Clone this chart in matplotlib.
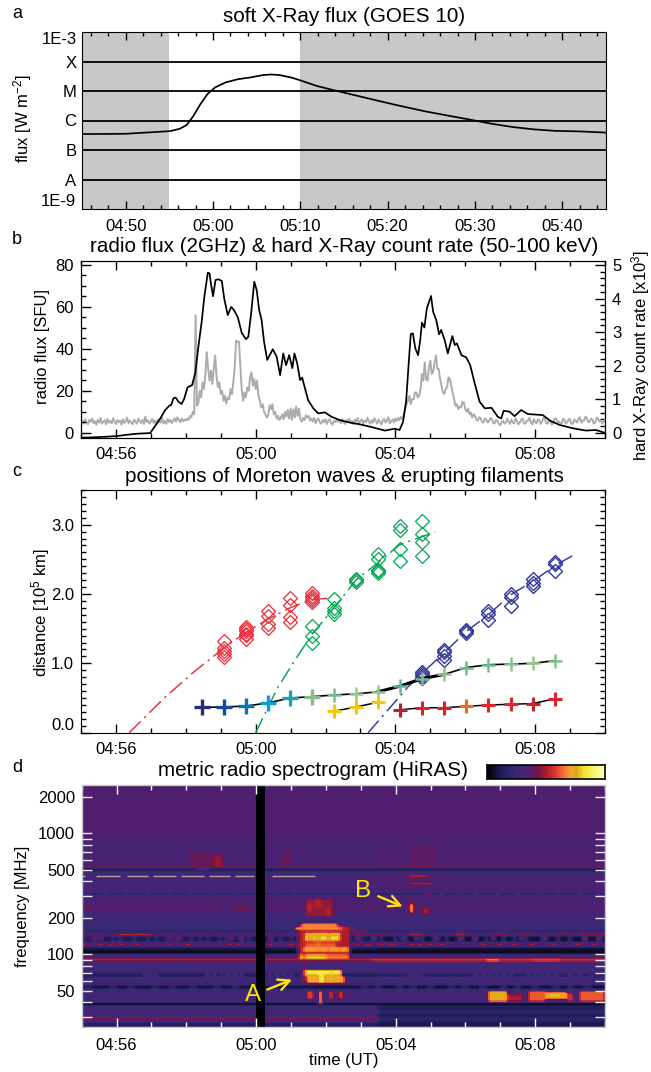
import numpy as np
import matplotlib
matplotlib.use('Agg')
import matplotlib.pyplot as plt
from matplotlib.colors import LinearSegmentedColormap
from matplotlib.ticker import FixedLocator, NullFormatter, MultipleLocator

W, H = 651, 1072
plt.rcParams['font.family'] = ['Liberation Sans', 'DejaVu Sans']
plt.rcParams['mathtext.default'] = 'regular'

# ---------- panel a (minutes after 05:00, log10 flux)
goes_t = [-15,-10,-7.15,-4.9,-3.8,-3,-2.3,-1.43,-.62,.24,1.43,2.86,4.29,5.72,6.68,7.63,9.06,10,11.9,13.8,16.2,18.6,21.5,24.3,27.2,29.6,31.9,34.3,36.7,39.1,42,45]
goes_log = [-6.46,-6.45,-6.40,-6.36,-6.28,-6.15,-5.87,-5.44,-5.10,-4.88,-4.71,-4.60,-4.54,-4.46,-4.44,-4.46,-4.55,-4.64,-4.83,-4.97,-5.14,-5.31,-5.51,-5.69,-5.85,-5.98,-6.11,-6.22,-6.30,-6.35,-6.37,-6.41]
goes_classes = [-4,-5,-6,-7,-8]
goes_ylabels = ['1E-3','X','M','C','B','A','1E-9']

# ---------- panel b
radio_t = [-4.99,-4.64,-4.26,-3.97,-3.69,-3.40,-3.16,-3.02,-2.88,-2.73,-2.59,-2.47,-2.42,-2.35,-2.29,-2.21,-2.12,-2.05,-1.95,-1.82,-1.73,-1.64,-1.54,-1.47,-1.37,-1.32,-1.28,-1.22,-1.15,-1.07,-.97,-.90,-.80,-.70,-.62,-.51,-.40,-.28,-.21,-.13,-.04,.03,.10,.17,.24,.33,.49,.60,.70,.79,.87,.96,1.05,1.11,1.19,1.27,1.33,1.50,1.65,1.79,1.98,2.17,2.41,2.70,2.98,3.36,3.70,3.98,4.12,4.22,4.31,4.38,4.44,4.50,4.57,4.65,4.71,4.76,4.83,4.90,5.02,5.08,5.17,5.25,5.31,5.41,5.50,5.63,5.70,5.76,5.89,6.03,6.14,6.27,6.41,6.56,6.75,6.93,7.03,7.10,7.27,7.41,7.60,7.79,8.22,8.43,8.70,9.08,9.46,9.74,9.98]
radio_v = [-2.4,-2.2,-1.9,-1.6,-1.0,-.5,-.3,-.2,3.2,6.8,10.8,12.9,13.2,16.5,16.7,14.8,13.7,16,21.6,22.7,28.3,41,53.7,64.8,76.3,76,71,65.1,72.8,73.2,72.4,64,56.1,60,58.5,55,47.7,44.6,45.8,56.9,72,68,58.5,53.7,43.4,34.7,39.8,36.3,27.5,37.8,32.2,37,30.8,37.8,33,25.1,26.3,15.6,11.6,9.2,9.7,7.6,6,4.8,4,2.5,1,1.9,1.3,5.2,15.6,33,47,47.4,40.2,37,44.2,52.5,50.2,59.3,65.2,57.7,53.7,46.9,49,44.2,37.8,46.1,41.8,42.6,37,35.9,32.3,23.5,14.8,11.6,11.9,7.6,6.8,10.5,10,7.9,10.8,8.9,8.4,5.7,3.7,2.1,1,1.3,0]
hxr_before = [.30,.36,.27,.40,.31,.25,.38,.33,.42,.28,.34,.24,.39,.30,.44,.27,.33,.37,.25,.41,.30,.35,.28,.43,.33,.26,.38,.31,.36,.24,.40,.29,.34,.45,.28,.36,.31,.25,.39,.33,.27,.42,.35,.29,.38,.26,.48,.32,.37,.27,.34,.41,.29,.36,.25,.39,.33,.30,.44,.28,.35,.26,.41,.32,.38,.29,.36,.43,.33,.46,.38,.31,.42,.34,.40,.36]
hxr_first = [.42,.38,.50,.46,.62,.55,3.5,.8,.9,1.25,1.05,1.5,1.3,1.75,2.4,1.9,1.55,1.85,1.45,1.9,2.3,1.7,1.35,1.5,1.15,1.25,.95,1.1,.87,1.05,1.0,1.3,1.15,1.5,1.95,2.75,2.7,2.72,2.0,1.3,.95,1.2,1.05,1.35,1.25,1.65,1.8,1.4,1.6,1.3,1.55,1.1,.95,.75,.85,.62,.55,.45,.52,.82,.7,.85,.55,.62,.42,.5,.38,.44,.55,.4,.62,.48,.68,.42,.72,.38,.7,.45,.78,.5,.72,.4,.33,.44,.38,.52,.45,.5,.36,.42,.33,.44,.28,.38,.42,.3,.27,.38,.31,.4,.26,.36,.4,.28,.24,.36,.31,.38]
hxr_between = [.33,.38,.28,.41,.30,.26,.37,.32,.42,.29,.35,.25,.39,.33,.44,.28,.35,.40,.27,.36,.31,.45,.33,.26,.38,.30,.43,.35,.27,.39,.32,.24,.37,.41,.30,.36,.46,.28,.34,.40,.31,.42,.35,.44,.38,.47,.40,.55]
hxr_second = [.7,.85,.95,1.1,.85,1.0,1.0,1.2,1.2,1.05,1.1,1.3,1.75,1.55,2.1,1.6,1.55,1.95,2.15,1.75,1.8,2.1,2.3,1.9,1.9,1.6,1.4,1.2,1.15,1.3,1.35,1.65,1.6,1.4,1.2,1.0,.8,.85,.7,.78,.75,.92,.9,.7,.62,.72,.55,.6,.45,.55,.5,.38,.36,.46,.43,.32,.3,.42,.4,.3,.35,.44,.42,.28,.28,.38,.35,.26,.22,.32]
hxr_after = [.36,.27,.30,.42,.33,.26,.39,.30,.28,.43,.34,.25,.30,.38,.42,.27,.27,.36,.36,.45,.31,.24,.40,.33,.28,.40,.37,.26,.33,.44,.41,.28,.27,.37,.35,.24,.30,.42,.42,.31,.34,.28,.28,.42,.38,.27,.32,.40,.40,.26,.27,.39,.35,.30,.41,.46,.30,.36,.36,.48,.44,.31,.33,.42,.39,.27,.30,.45,.42,.33,.36,.27,.32,.40]
hxr_step_min = 0.04

# ---------- panel c
red_t = [-.91]*5 + [-.27]*6 + [.36]*4 + [.98]*4 + [1.6]*5
red_d = [1.32,1.22,1.18,1.13,1.09, 1.53,1.50,1.47,1.43,1.41,1.35, 1.76,1.68,1.57,1.51, 1.94,1.84,1.67,1.59, 2.01,1.97,1.94,1.91,1.88]
red_fit_t = [-3.62,-2.62,-1.76,-.91,-.27,.36,.98,1.6,2.1]
red_fit_d = [0,.5,.88,1.22,1.45,1.64,1.80,1.92,1.94]
green_t = [1.6]*3 + [2.24]*4 + [2.87]*3 + [3.5]*5 + [4.12]*4 + [4.77]*4
green_d = [1.54,1.40,1.30, 1.93,1.80,1.76,1.71, 2.21,2.20,2.18, 2.57,2.50,2.35,2.33,2.31, 2.98,2.93,2.65,2.48, 3.05,2.87,2.75,2.55]
green_fit_t = [0,.62,1.08,1.6,2.24,2.87,3.5,4.12,4.77,5.15]
green_fit_d = [0,.64,1.01,1.41,1.8,2.2,2.45,2.71,2.83,2.89]
blue_t = [4.77]*4 + [5.39]*4 + [6.03]*3 + [6.66]*3 + [7.3]*3 + [7.93]*3 + [8.57]*3
blue_d = [.87,.84,.82,.79, 1.19,1.16,1.11,1.05, 1.48,1.46,1.44, 1.76,1.71,1.62, 2.0,1.96,1.83, 2.22,2.16,2.11, 2.46,2.43,2.33]
blue_fit_t = [3.22,3.6,4.36,4.77,5.39,6.03,6.66,7.3,7.93,8.57,9.06]
blue_fit_d = [0,.22,.66,.86,1.15,1.46,1.7,1.99,2.18,2.41,2.55]
fil1_t = [-1.54,-.9,-.27,.36,.98,1.62,2.24,2.87,3.5,4.12,4.77,5.39,6.03,6.66,7.3,7.93,8.57]
fil1_d = [.366,.371,.385,.43,.50,.52,.544,.56,.59,.67,.78,.84,.94,.98,.99,1.0,1.04]
fil1_colors = ['#2b2a7c','#144a9a','#0b74b8','#0a9ddc','#1f9fb5','#86bf8c','#7dbb96','#96c98e','#8cc594','#62b59a','#76bd92','#8cc683','#72bb8f','#6fbb97','#88c48e','#96c98e','#7ec48a']
fil2_t = [2.24,2.87,3.5,4.12,4.77,5.39,6.03,6.66,7.3,7.93,8.57]
fil2_d = [.31,.37,.44,.33,.36,.36,.38,.40,.41,.42,.49]
fil2_colors = ['#f6c510','#f6c510','#f6c510','#b81f2c','#d62230','#e0202c','#ea6c22','#e0262c','#dc2630','#c9242e','#e4202c']

# ---------- panel d : spectrogram, level 0..1 on the colour bar
band_top_mhz = [2500,881,837,729,532,506,484,451,429,406,393,325,307,246,231,199,159,151,141,126,114,110,100,93,87,71,65,56,51,39.5,37.6,34.2,32.1,30,28.8,28,27.4]
band_early =   [.36,.31,.33,.32,.43,.07,.26,.27,.34,.17,.30,.15,.33,.42,.27,.24,.16,.38,.11,.36,.12,.04,.29,.50,.27,.13,.28,.08,.28,.01,.24,.33,.22,.52,.22,.47,.14]
band_late =    [.36,.31,.33,.34,.43,.07,.28,.31,.34,.17,.33,.13,.33,.38,.29,.26,.16,.36,.07,.36,.08,.04,.30,.50,.27,.16,.28,.07,.28,.01,.14,.19,.11,.20,.12,.17,.10]
data_gap = (0.0, 0.27)
# (t start, t end, low MHz, high MHz, level)
faint_blobs = [(-1.9,-1,530,690,.41),(-1.2,-.95,520,640,.47),(-1.7,-1.35,500,530,.42),(.7,1.0,520,700,.40),(-.6,-.25,228,248,.44),(-4.85,-4.7,225,250,.44),
               (4.4,5.2,530,800,.38),(4.5,5.0,510,540,.44),(-1.4,-1.2,245,255,.38),(1.2,2.7,86,172,.50),(1.3,2.4,60,76,.46),(3,5,380,440,.35)]
dashed_line_t0 = [-5,-4.6,-3.7,-2.95,-2.15,-1.35,-.6,.45]
dashed_line_t1 = [-4.9,-3.9,-3.1,-2.3,-1.5,-.75,-.05,1.7]
dashed_mhz = 441
main_burst = [(1.41,2.22,205,285,.47),(1.7,1.85,240,290,.52),(2.0,2.15,210,240,.52),(1.45,1.6,230,260,.53),(1.31,2.36,170,180,.66),(1.12,2.5,158,168,.68),
              (1.41,2.41,127,133,.76),(1.41,2.41,133,139,.83),(1.41,2.41,139,145,.70),(1.41,2.41,145,152,.81),(1.41,2.31,115,125,.62),
              (1.36,2.65,104,113,.70),(1.27,1.98,94,100,.74),(1.27,1.98,86,94,.84),(1.98,2.65,86,100,.66),(1.41,2.46,69,73,.85),(1.41,2.46,66,69,.76),(1.46,2.57,57,66,.72),
              (1.79,1.93,57,73,.85),(2.1,2.2,57,70,.79),(1.46,1.65,42,50,.58),(1.79,1.91,39,50,.75),(2.12,2.22,42,50,.6),(2.36,2.5,42,50,.55),(2.58,2.67,43,50,.55),
              (1.55,1.6,127,152,.64),(1.75,1.8,104,152,.66),(2.05,2.1,104,152,.62),(2.4,2.8,160,166,.52),(2.6,3.2,155,160,.47),(1.36,1.41,57,100,.5)]
line_88mhz = [(1.0,3.3,.50),(3.3,6.6,.58),(6.6,6.95,.70),(6.95,7.9,.58),(7.9,8.7,.63),(8.7,10,.56)]
wave_b = [(4.36,4.93,430,455,.55),(4.4,5.03,375,390,.66),(4.85,5.0,305,320,.47),(4.74,4.93,215,240,.50),(4.41,4.5,220,260,.76),(5.7,6.5,240,243,.44),(4.4,4.5,260,300,.4)]
late_bursts = [(6.65,7.2,41,50,.74),(7.2,7.65,41,47,.50),(7.8,8.3,41,50,.62),(8.3,8.9,42,49,.74),(8.4,8.7,44,47,.80),(8.9,9.1,41,48,.55),(9.25,10,41,50,.62)]
strip_150mhz = [(-3.97,-3.0,143,148,.66),(2.8,3.1,143,148,.55),(3.4,3.7,143,148,.52),(4.4,4.75,143,150,.56),(5.7,6,143,150,.56),(6.8,7.2,143,150,.48),(7.6,7.9,143,150,.48),(8.6,9,143,150,.46),(9.3,10,143,150,.5)]
speck_mhz_a = 121
speck_t_a = [-4.93,-4.45,-4.16,-3.87,-3.4,-2.45,-1.97,-.73,-.49,.41,.98,2.9,3.2,3.6,3.9,4.45,4.7,5.0,5.3,6.5,7.0,7.4,7.9,8.5,9.2,9.7]
speck_mhz_b = 134
speck_t_b = [-4.64,-4.45,-2.45,-2.2,-.7,-.45,.4,2.9,3.4,4.2,4.6,5.2,5.9,6.3,6.8,7.6,8.3,9.4,9.85]
speck_mhz_c = 160
speck_t_c = [-4.3,-3.4,-2.9,-2.2,-1.3,-.7,.5,.9,3.0,3.7,4.2,4.9,5.8,6.4,7.2,8.1,8.9,9.6]
# places where the dark stripes break up
break_t_133 = [-4.9,-4.6,-4.1,-3.9,-3.5,-3.1,-2.85,-2.55,-2.3,-1.85,-1.6,-1.4,-1.05,-.85,-.4,-.2,.45,.7,1,3,3.35,3.6,4.0,4.3,4.75,5.1,5.45,5.8,6.25,6.6,7.1,7.4,7.75,8.2,8.65,9,9.45,9.8]
break_t_68 = [-3.2,-3.05,-2.9,-1.4,-1.2,-1,-.8,-.6,-.4,.4,.6,.8,1,4.4,4.55,4.7,6.3,6.5,6.7,6.9,7.1,7.3,7.8,8,8.2,8.4,8.6,9,9.3,9.6]
break_t_53 = [-4.8,-4.1,-3.6,-2.9,-2.4,-1.8,-1.1,-.6,.5,3.1,3.5,4.1,4.5,5,5.6,6,6.5,7.1,7.5,8,8.6,9,9.5]
break_t_315 = [-4.8,-4.3,-3.7,-3.1,-2.5,-1.9,-1.3,-.6,.6,1.1,3.4,3.9,5.3,5.8,6.3,6.9,7.5,8.1,8.7,9.3,9.8]

cmap_levels = [0,.12,.25,.36,.44,.50,.58,.67,.72,.76,.82,.90,1]
cmap_colors = ['#000005','#1e1e5a','#3c2878','#501e6e','#781446','#aa1e2d','#dc372d','#fa8232','#f5a52d','#d7aa14','#f0e132','#faf564','#ffffc8']
spec_cmap = LinearSegmentedColormap.from_list('hiras', list(zip(cmap_levels, cmap_colors)))

# ---------- layout
fig = plt.figure(figsize=(W/100, H/100), dpi=100)
PT = 0.72

def axes_px(l, t, r, b):
    return fig.add_axes([l/W, 1-b/H, (r-l)/W, (b-t)/H])

def text_px(x, y, s, **kw):
    kw.setdefault('ha', 'center')
    kw.setdefault('va', 'center')
    return fig.text(x/W, 1-y/H, s, **kw)

TS = 12
TITLE = 14.85

def time_axis(ax, color='black', labelpad=7):
    ax.set_xlim(-5, 10)
    ax.xaxis.set_major_locator(FixedLocator([-4, 0, 4, 8]))
    ax.xaxis.set_minor_locator(MultipleLocator(1))
    ax.set_xticklabels(['04:56', '05:00', '05:04', '05:08'])
    ax.tick_params(axis='x', which='major', direction='in', top=True, length=9*PT, width=1, color=color, labelsize=TS, pad=labelpad)
    ax.tick_params(axis='x', which='minor', direction='in', top=True, length=5*PT, width=1, color=color)

text_px(17, 14, 'a', fontsize=TS+1)
text_px(17, 240, 'b', fontsize=TS+1)
text_px(17, 472, 'c', fontsize=TS+1)
text_px(17, 767, 'd', fontsize=TS+1)

# --- a
a = axes_px(82, 32, 606, 209)
a.axvspan(-15, -5, color='#c6c8ca', lw=0, zorder=0)
a.axvspan(10, 45, color='#c6c8ca', lw=0, zorder=0)
for c_level in goes_classes:
    a.axhline(10.0**c_level, color='black', lw=1.3, zorder=2)
a.plot(goes_t, 10.0**np.array(goes_log), color='black', lw=1.25, zorder=3)
a.set_yscale('log')
a.set_ylim(1e-9, 1e-3)
a.set_xlim(-15, 45)
a.yaxis.set_major_locator(FixedLocator([1e-3,1e-4,1e-5,1e-6,1e-7,1e-8,1e-9]))
a.yaxis.set_minor_locator(FixedLocator([]))
a.set_yticklabels(goes_ylabels)
a.tick_params(axis='y', which='major', length=0, labelsize=TS, pad=4)
labs = a.get_yticklabels()
labs[0].set_va('top'); labs[-1].set_va('bottom')
a.xaxis.set_major_locator(FixedLocator([-10,0,10,20,30,40]))
a.xaxis.set_minor_locator(MultipleLocator(2))
a.set_xticklabels(['04:50','05:00','05:10','05:20','05:30','05:40'])
a.tick_params(axis='x', which='major', direction='in', top=True, length=8*PT, width=1, labelsize=TS, pad=7)
a.tick_params(axis='x', which='minor', direction='in', top=True, length=4*PT, width=1)
text_px(344, 16, 'soft X-Ray flux (GOES 10)', fontsize=TITLE)
text_px(23, 119, 'flux [W m$^{-2}$]', fontsize=TS, rotation=90)

# --- b
b = axes_px(81, 261, 605, 437.7)
b.plot(radio_t, radio_v, color='black', lw=1.25, zorder=3)
b.set_ylim(-2.39, 81.9)
time_axis(b)
b.yaxis.set_major_locator(MultipleLocator(20))
b.yaxis.set_minor_locator(MultipleLocator(5))
b.tick_params(axis='y', which='major', direction='in', length=10*PT, width=1, labelsize=TS, pad=5)
b.tick_params(axis='y', which='minor', direction='in', length=5*PT, width=1)
b2 = b.twinx()
hxr = np.array(hxr_before + hxr_first + hxr_between + hxr_second + hxr_after)
b2.plot(-5 + hxr_step_min*np.arange(len(hxr)), hxr, color='#aaacaf', lw=1.4, zorder=2)
b2.set_ylim(-2.39/16, 81.9/16)
b2.yaxis.set_major_locator(MultipleLocator(1))
b2.yaxis.set_minor_locator(MultipleLocator(.2))
b2.tick_params(axis='y', which='major', direction='in', length=10*PT, width=1, labelsize=TS, pad=5)
b2.tick_params(axis='y', which='minor', direction='in', length=5*PT, width=1)
b.set_zorder(b2.get_zorder()+1)
b.patch.set_visible(False)
text_px(344, 246, 'radio flux (2GHz) & hard X-Ray count rate (50-100 keV)', fontsize=TITLE)
text_px(43, 347, 'radio flux [SFU]', fontsize=TS, rotation=90)
text_px(641, 355, 'hard X-Ray count rate [x10$^3$]', fontsize=TS, rotation=90)

# --- c
c = axes_px(81, 490, 605, 732.7)
dashdot = (0, (11, 3.5, 1.5, 3.5))
c.plot(red_fit_t, red_fit_d, color='#ee2b3a', lw=1.05, ls=dashdot)
c.plot(green_fit_t, green_fit_d, color='#00a651', lw=1.05, ls=dashdot)
c.plot(blue_fit_t, blue_fit_d, color='#34379a', lw=1.05, ls=dashdot)
c.plot(red_t, red_d, ls='none', marker='D', ms=7.6, mfc='none', mec='#ee2b3a', mew=.9)
c.plot(green_t, green_d, ls='none', marker='D', ms=7.6, mfc='none', mec='#00a651', mew=.9)
c.plot(blue_t, blue_d, ls='none', marker='D', ms=7.6, mfc='none', mec='#34379a', mew=1.0)
c.plot(fil1_t, fil1_d, color='black', lw=1.2)
c.plot(fil1_t[8:12], fil1_d[8:12], color='black', lw=2.2)
c.plot(fil2_t[:3], fil2_d[:3], color='black', lw=1.1)
c.plot(fil2_t[3:], fil2_d[3:], color='black', lw=1.1)
for i, (t, dist, col) in enumerate(zip(fil1_t, fil1_d, fil1_colors)):
    c.plot([t], [dist], marker='+', ms=11 if i < 6 else 10, mew=2.4 if i < 6 else 1.8, color=col, ls='none')
for t, dist, col in zip(fil2_t, fil2_d, fil2_colors):
    c.plot([t], [dist], marker='+', ms=10.5, mew=2.2, color=col, ls='none')
time_axis(c)
c.set_ylim(0, 3.5)
c.yaxis.set_major_locator(FixedLocator([0, 1, 2, 3]))
c.yaxis.set_minor_locator(MultipleLocator(.1))
c.set_yticklabels(['0.0', '1.0', '2.0', '3.0'])
c.tick_params(axis='y', which='major', direction='in', right=True, length=10*PT, width=1, labelsize=TS, pad=5)
c.tick_params(axis='y', which='minor', direction='in', right=True, length=5*PT, width=1)
c.get_yticklabels()[0].set_va('bottom')
text_px(344, 477, 'positions of Moreton waves & erupting filaments', fontsize=TITLE)
text_px(41, 613, 'distance [10$^5$ km]', fontsize=TS, rotation=90)

# --- d
d = axes_px(81.7, 785, 605, 1027)
t_edges = np.linspace(-5, 10, 301)
f_edges = np.geomspace(25, 2500, 201)
t_mid = 0.5*(t_edges[:-1] + t_edges[1:])
f_mid = np.sqrt(f_edges[:-1]*f_edges[1:])
spec = np.zeros((len(f_mid), len(t_mid)))
tops = np.array(band_top_mhz)
lows = np.append(tops[1:], 25.0)
for top, low, e, l in zip(tops, lows, band_early, band_late):
    rows = (f_mid <= top) & (f_mid > low)
    spec[np.ix_(rows, t_mid < 3.5)] = e
    spec[np.ix_(rows, t_mid >= 3.5)] = l

def paint(t0, t1, f0, f1, level):
    spec[np.ix_((f_mid >= f0) & (f_mid <= f1), (t_mid >= t0) & (t_mid <= t1))] = level

for tt in break_t_133:
    paint(tt-.06, tt+.06, 126, 141, .22)
for tt in break_t_68:
    paint(tt-.07, tt+.07, 65, 71, .30)
for tt in break_t_53:
    paint(tt-.08, tt+.08, 51, 56, .18)
for tt in break_t_315:
    paint(tt-.07, tt+.07, 307, 325, .25)
for item in faint_blobs + main_burst + wave_b + late_bursts + strip_150mhz:
    paint(*item)
for t0, t1, level in line_88mhz:
    paint(t0, t1, 87, 90, level)
for tt in speck_t_a:
    paint(tt-.05, tt+.05, speck_mhz_a-2, speck_mhz_a+2, .74)
for tt in speck_t_b:
    paint(tt-.05, tt+.05, speck_mhz_b-2, speck_mhz_b+2, .64)
for tt in speck_t_c:
    paint(tt-.05, tt+.05, speck_mhz_c-2, speck_mhz_c+2, .52)
# soften the painted edges with a small 1-2-1 kernel, as the image is in the reference
for axis in (0, 1):
    spec = 0.25*np.roll(spec, 1, axis) + 0.5*spec + 0.25*np.roll(spec, -1, axis)
spec[np.ix_(np.ones(len(f_mid), bool), (t_mid >= data_gap[0]) & (t_mid <= data_gap[1]))] = 0
d.pcolormesh(t_edges, f_edges, spec, cmap=spec_cmap, vmin=0, vmax=1, shading='flat', rasterized=True, antialiased=False)
d.hlines([dashed_mhz]*len(dashed_line_t0), dashed_line_t0, dashed_line_t1, color='#b8a098', lw=1.0)
d.set_yscale('log')
d.set_ylim(25, 2500)
time_axis(d, color='white', labelpad=8)
d.yaxis.set_major_locator(FixedLocator([50, 100, 200, 500, 1000, 2000]))
d.yaxis.set_minor_locator(FixedLocator([30,40,60,70,80,90,300,400,600,700,800,900]))
d.yaxis.set_major_formatter(plt.FixedFormatter(['50', '100', '200', '500', '1000', '2000']))
d.yaxis.set_minor_formatter(NullFormatter())
d.tick_params(axis='y', which='major', direction='in', right=True, length=10*PT, width=1, color='#e8e8e8', labelsize=TS, pad=5)
d.tick_params(axis='y', which='minor', direction='in', right=True, length=10*PT, width=1, color='#e8e8e8')
for sp in d.spines.values():
    sp.set_color('#c8c8c8')
    sp.set_linewidth(1)
d.text(-0.08, 46, 'A', color='#ffe600', fontsize=17.5, ha='center', va='center')
d.text(3.07, 330, 'B', color='#ffe600', fontsize=17.5, ha='center', va='center')
arrow = dict(arrowstyle='->,head_width=.4,head_length=.8', color='#ffe600', lw=1.7, shrinkA=0, shrinkB=0)
d.annotate('', xy=(1.03, 61.6), xytext=(.32, 51), arrowprops=arrow)
d.annotate('', xy=(4.2, 248), xytext=(3.5, 301), arrowprops=arrow)
text_px(313, 770, 'metric radio spectrogram (HiRAS)', fontsize=TITLE)
text_px(23, 906, 'frequency [MHz]', fontsize=TS, rotation=90)
text_px(344, 1061, 'time (UT)', fontsize=TS)

cb = axes_px(487, 765, 605, 779)
cb.imshow(np.linspace(0, 1, 256)[None, :], cmap=spec_cmap, aspect='auto', vmin=0, vmax=1)
cb.set_xticks([]); cb.set_yticks([])
for sp in cb.spines.values():
    sp.set_linewidth(1.2)

fig.savefig('out.png', dpi=100)
